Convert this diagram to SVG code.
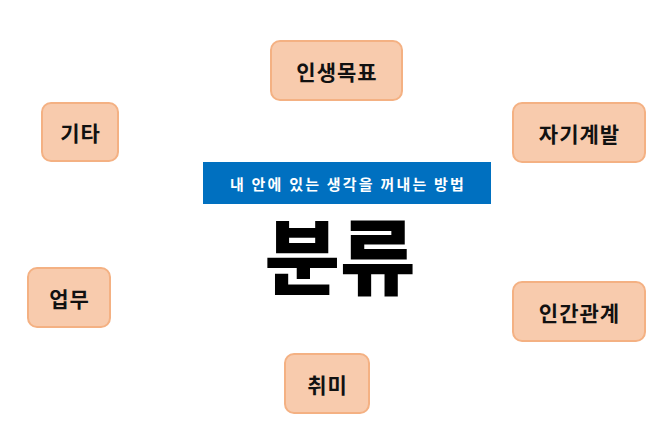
<svg xmlns="http://www.w3.org/2000/svg" width="672" height="433" viewBox="0 0 672 433">
<style>
.node rect{fill:#F8CBAD;stroke:#F4B183;stroke-width:2}
.node text{font-family:"Noto Sans CJK KR","Noto Sans",sans-serif;font-size:21px;font-weight:bold;fill:#111;text-anchor:middle;dominant-baseline:central;letter-spacing:1px}
</style>
<rect width="672" height="433" fill="#fff"/>
<g id="banner">
<rect x="203" y="162" width="288" height="42" fill="#0070C0"/>
<text x="348" y="183.5" font-family="Noto Sans CJK KR,sans-serif" font-size="15" font-weight="bold" fill="#fff" text-anchor="middle" dominant-baseline="central" letter-spacing="2.2">내 안에 있는 생각을 꺼내는 방법</text>
</g>
<g id="title">
<text x="340" y="288" font-family="Noto Sans CJK KR,sans-serif" font-size="82" font-weight="900" fill="#000" text-anchor="middle">분류</text>
</g>
<g id="connectors"></g>
<g id="n1" class="node"><rect x="271" y="41" width="131" height="59" rx="9"/><text x="337" y="70.5">인생목표</text></g>
<g id="n2" class="node"><rect x="42" y="103" width="76" height="58" rx="9"/><text x="80.5" y="132">기타</text></g>
<g id="n3" class="node"><rect x="513" y="103" width="132" height="59" rx="9"/><text x="579.5" y="132.5">자기계발</text></g>
<g id="n4" class="node"><rect x="28" y="268" width="82" height="59" rx="9"/><text x="69.5" y="297.5">업무</text></g>
<g id="n5" class="node"><rect x="513" y="282" width="132" height="59" rx="9"/><text x="579.5" y="311.5">인간관계</text></g>
<g id="n6" class="node"><rect x="285" y="354" width="84" height="59" rx="9"/><text x="327.5" y="383.5">취미</text></g>
</svg>
